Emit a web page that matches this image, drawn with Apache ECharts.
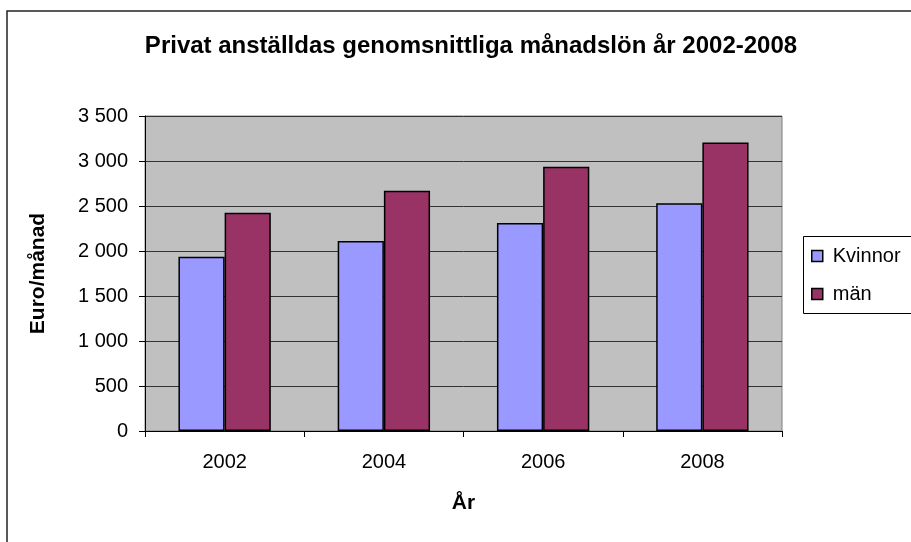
<!DOCTYPE html>
<html>
<head>
<meta charset="utf-8">
<script src="https://cdn.jsdelivr.net/npm/echarts@6/dist/echarts.min.js"></script>
<style>
html,body{margin:0;padding:0;background:#fff;}
#chart{width:911px;height:542px;}
</style>
</head>
<body>
<div id="chart"></div>
<script>
const titleText = 'Privat anställdas genomsnittliga månadslön år 2002-2008';
const categories = ['2002', '2004', '2006', '2008'];
const seriesNames = ['Kvinnor', 'män'];
const kvinnor = [1935, 2110, 2310, 2530];
const man = [2425, 2670, 2935, 3205];
const yAxisName = 'Euro/månad';
const xAxisName = 'År';

const chart = echarts.init(document.getElementById('chart'), null, {renderer: 'canvas'});
const font = '"Liberation Sans", Arial, sans-serif';

function fmt(v) {
  return String(v).replace(/\B(?=(\d{3})+(?!\d))/g, ' ');
}

chart.setOption({
  backgroundColor: '#ffffff',
  animation: false,
  title: {
    text: titleText,
    left: 466,
    top: 29,
    textAlign: 'center',
    textStyle: {fontFamily: font, fontSize: 24, fontWeight: 'bold', color: '#000'}
  },
  graphic: [
    {type: 'rect', shape: {x: 7, y: 11, width: 1000, height: 1000}, style: {fill: 'none', stroke: '#222', lineWidth: 1.5}, z: 100},
    {type: 'rect', shape: {x: 803.5, y: 236.5, width: 200, height: 77}, style: {fill: '#fff', stroke: '#000', lineWidth: 1}, z: 0}
  ],
  legend: {
    orient: 'vertical',
    left: 811,
    top: 246,
    padding: 0,
    itemGap: 18,
    itemWidth: 11,
    itemHeight: 11,
    icon: 'rect',
    data: seriesNames,
    itemStyle: {borderColor: '#000', borderWidth: 1.5},
    textStyle: {fontFamily: font, fontSize: 20, color: '#000', padding: [0, 0, 0, 5]},
    z: 10
  },
  grid: {
    left: 145, right: 129, top: 116, bottom: 111,
    show: true, backgroundColor: '#C0C0C0', borderColor: '#808080', borderWidth: 1
  },
  xAxis: {
    type: 'category',
    data: categories,
    name: xAxisName,
    nameLocation: 'middle',
    nameGap: 62,
    nameTextStyle: {fontFamily: font, fontSize: 21, fontWeight: 'bold', color: '#000'},
    axisLine: {show: true, lineStyle: {color: '#000', width: 1}},
    axisTick: {show: true, inside: false, length: 6, alignWithLabel: false, lineStyle: {color: '#000'}},
    axisLabel: {fontFamily: font, fontSize: 20, color: '#000', margin: 21},
    splitLine: {show: false}
  },
  yAxis: {
    type: 'value',
    min: 0,
    max: 3500,
    interval: 500,
    name: yAxisName,
    nameLocation: 'middle',
    nameGap: 96,
    nameTextStyle: {fontFamily: font, fontSize: 21, fontWeight: 'bold', color: '#000'},
    axisLine: {show: true, lineStyle: {color: '#000', width: 1}},
    axisTick: {show: true, length: 6, lineStyle: {color: '#000'}},
    axisLabel: {fontFamily: font, fontSize: 20, color: '#000', margin: 17, formatter: fmt},
    splitLine: {show: true, lineStyle: {color: '#333', width: 1}}
  },
  series: [
    {
      name: seriesNames[0], type: 'bar', data: kvinnor,
      barGap: '0%', barCategoryGap: '42%',
      itemStyle: {color: '#9999FF', borderColor: '#000', borderWidth: 1.5}
    },
    {
      name: seriesNames[1], type: 'bar', data: man,
      barGap: '0%', barCategoryGap: '42%',
      itemStyle: {color: '#993366', borderColor: '#000', borderWidth: 1.5}
    }
  ]
});
</script>
</body>
</html>
